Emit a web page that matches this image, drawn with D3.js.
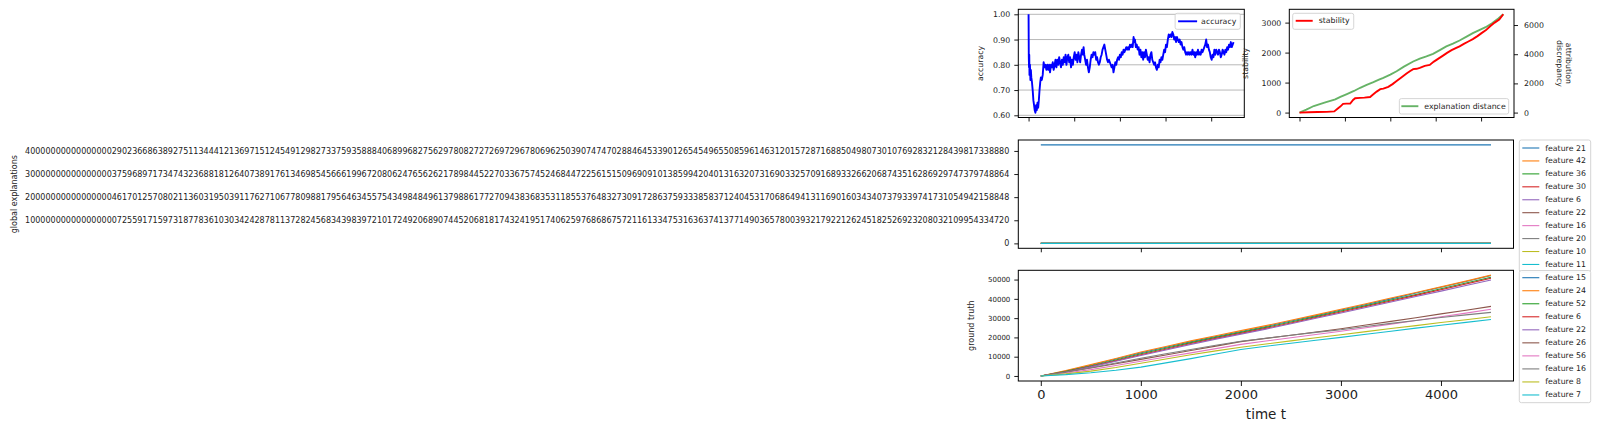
<!DOCTYPE html>
<html><head><meta charset="utf-8">
<script src="https://cdn.jsdelivr.net/npm/d3@7"></script>
<style>body{margin:0;background:#fff;} svg{display:block;font-family:"DejaVu Sans",sans-serif;}</style>
</head><body><svg id="c" width="1600" height="432"></svg>
<script>
// ---------------- DATA ----------------
const xTicks = [0, 1000, 2000, 3000, 4000];

const accT = [0,5,10,15,20,30,40,50,60,75,90,105,120,135,150,165,180,195,210,225,240,255,270,290,310,330,350,370,390,410,430,450,470,490,510,530,550,570,590,610,630,650,670,690,710,730,750,770,790,810,830,850,870,890,910,930,950,970,990,1010,1030,1050,1070,1090,1110,1130,1150,1170,1190,1205,1220,1240,1260,1280,1300,1320,1340,1360,1380,1400,1420,1440,1460,1480,1500,1520,1540,1560,1580,1600,1620,1640,1660,1680,1700,1720,1740,1760,1780,1800,1820,1840,1860,1880,1900,1920,1940,1960,1980,2000,2020,2040,2060,2080,2100,2120,2140,2160,2180,2200,2220,2240,2260,2280,2300,2315,2330,2350,2370,2390,2410,2430,2450,2470,2490,2510,2530,2550,2570,2590,2610,2630,2650,2670,2690,2710,2730,2750,2770,2790,2810,2830,2850,2870,2890,2910,2930,2950,2970,2990,3010,3030,3050,3070,3090,3110,3130,3150,3170,3190,3210,3230,3250,3270,3290,3310,3330,3350,3370,3390,3410,3430,3450,3470,3490,3510,3530,3550,3570,3590,3610,3630,3650,3670,3690,3710,3730,3750,3770,3790,3810,3830,3850,3870,3890,3910,3930,3950,3970,3990,4010,4030,4050,4070,4090,4110,4130,4150,4170,4190,4210,4230,4250,4270,4290,4310,4330,4350,4370,4390,4410,4430,4450,4470,4490];
const accV = [1.00,0.83,0.79,0.84,0.76,0.80,0.74,0.78,0.75,0.73,0.70,0.66,0.64,0.62,0.61,0.64,0.62,0.65,0.63,0.66,0.70,0.73,0.75,0.74,0.76,0.81,0.79,0.80,0.78,0.80,0.78,0.80,0.77,0.80,0.79,0.81,0.78,0.80,0.82,0.79,0.82,0.80,0.83,0.81,0.79,0.82,0.80,0.83,0.81,0.84,0.80,0.83,0.84,0.81,0.83,0.79,0.82,0.80,0.83,0.85,0.82,0.84,0.81,0.85,0.83,0.81,0.84,0.86,0.84,0.87,0.84,0.82,0.80,0.82,0.79,0.77,0.79,0.82,0.84,0.83,0.85,0.84,0.85,0.82,0.83,0.81,0.80,0.81,0.83,0.84,0.86,0.87,0.88,0.86,0.84,0.82,0.81,0.82,0.81,0.80,0.79,0.80,0.77,0.79,0.81,0.80,0.82,0.83,0.82,0.84,0.83,0.85,0.84,0.86,0.85,0.86,0.87,0.86,0.87,0.86,0.88,0.87,0.88,0.87,0.91,0.89,0.90,0.87,0.88,0.86,0.87,0.84,0.86,0.83,0.85,0.82,0.85,0.83,0.86,0.84,0.82,0.83,0.81,0.84,0.85,0.82,0.81,0.80,0.81,0.79,0.78,0.80,0.79,0.82,0.81,0.83,0.82,0.84,0.86,0.85,0.88,0.87,0.90,0.92,0.91,0.92,0.91,0.93,0.92,0.90,0.91,0.89,0.91,0.90,0.89,0.90,0.88,0.89,0.87,0.86,0.87,0.85,0.84,0.85,0.84,0.85,0.84,0.85,0.84,0.86,0.84,0.85,0.83,0.85,0.84,0.86,0.84,0.85,0.84,0.86,0.85,0.86,0.87,0.88,0.90,0.87,0.88,0.86,0.85,0.83,0.82,0.84,0.83,0.86,0.84,0.86,0.85,0.84,0.86,0.85,0.83,0.84,0.86,0.85,0.84,0.86,0.85,0.87,0.86,0.88,0.87,0.89,0.87,0.88,0.89];
const accTicks = [0.6, 0.7, 0.8, 0.9, 1.0];

const stabT = [0,200,400,600,766,830,898,960,1029,1117,1180,1226,1336,1430,1555,1620,1700,1780,1847,1956,2050,2139,2250,2358,2430,2504,2580,2650,2760,2869,2960,3060,3161,3250,3350,3430,3526,3620,3720,3818,3920,4010,4109,4200,4300,4400,4489];
const stabV = [0,10,20,25,40,120,200,290,300,300,420,480,490,500,520,600,700,780,800,860,950,1050,1180,1300,1380,1450,1460,1490,1560,1590,1700,1800,1900,1990,2080,2140,2210,2290,2370,2450,2550,2650,2750,2880,3000,3100,3280];
const stabTicks = [0, 1000, 2000, 3000];

const distT = [0,150,314,550,788,900,1044,1200,1336,1480,1628,1750,1847,2000,2139,2300,2504,2650,2796,2942,3100,3234,3380,3526,3680,3818,3960,4100,4248,4380,4489];
const distV = [0,200,450,680,900,1080,1270,1480,1700,1900,2085,2250,2380,2600,2830,3150,3500,3700,3850,4030,4300,4530,4720,4940,5200,5440,5650,5850,6130,6450,6740];
const distTicks = [0, 2000, 4000, 6000];

const globalT = [0, 4500];
const globalFeatures = ["feature 21","feature 42","feature 36","feature 30","feature 6","feature 22","feature 16","feature 20","feature 10","feature 11"];
const globalValues = [
  [4.26e192, 4.26e192],
  [0, 0],[0, 0],[0, 0],[0, 0],[0, 0],[0, 0],[0, 0],[0, 0],[0, 0]
];
const globalTicks = [0, 1e192, 2e192, 3e192, 4e192];
const globalTickLabels = [
  "0",
  "1000000000000000007255917159731877836103034242878113728245683439839721017249206890744520681817432419517406259768686757211613347531636374137714903657800393217922126245182526923208032109954334720",
  "2000000000000000046170125708021136031950391176271067780988179564634557543498484961379886177270943836835311855376483273091728637593338583712404531706864941311690160343407379339741731054942158848",
  "3000000000000000037596897173474323688181264073891761346985456661996720806247656262178984452270336757452468447225615150969091013859942040131632073169033257091689332662068743516286929747379748864",
  "4000000000000000029023668638927511344412136971512454912982733759358884068996827562978082727269729678069625039074747028846453390126545496550859614631201572871688504980730107692832128439817338880"
];

const truthT = [0,250,500,750,1000,1250,1500,1750,2000,2250,2500,2750,3000,3250,3500,3750,4000,4250,4500];
const truthFeatures = ["feature 15","feature 24","feature 52","feature 6","feature 22","feature 26","feature 56","feature 16","feature 8","feature 7"];
const truthValues = [
  [0,2600,5600,8800,12000,14900,17800,20500,23100,25700,28500,31300,34200,37100,40000,43000,46000,49000,52100],
  [0,2800,5900,9100,12400,15300,18200,20900,23500,26100,28900,31700,34600,37500,40400,43300,46200,49200,52300],
  [0,2400,5200,8300,11500,14400,17300,20000,22600,25200,28000,30800,33700,36500,39400,42300,45200,48200,51200],
  [0,2200,4900,7900,11000,13900,16800,19500,22100,24700,27500,30300,33200,36000,38900,41800,44700,47700,50700],
  [0,2100,4700,7600,10600,13500,16400,19100,21700,24300,27100,29900,32700,35500,38400,41200,44000,46900,49800],
  [0,2000,4100,6300,8600,10900,13200,15500,17800,19500,21100,22800,24500,26400,28300,30200,32200,34100,36100],
  [0,1500,3300,5400,7600,9800,12000,14200,16400,18100,19800,21500,23200,25000,26900,28800,30700,32600,34600],
  [0,2100,4300,6700,9200,11500,13700,15900,18000,19600,21100,22600,24000,25700,27300,28800,30300,31700,33000],
  [0,1100,2500,4400,6600,8800,11000,13000,14900,16600,18200,19800,21400,23000,24600,26100,27700,29200,30700],
  [0,700,1700,3000,4600,6800,9000,11400,13700,15400,17000,18500,20000,21600,23200,24800,26300,27800,29300]
];
const truthTicks = [0, 10000, 20000, 30000, 40000, 50000];

// ---------------- DRAW ----------------
const svg = d3.select("#c");
const FONT = "DejaVu Sans";
const TXT = "#222";
const tab10 = d3.schemeCategory10;
const TICKFS = 7.8;

function frame(L, T, R, B) {
  svg.append("rect").attr("x", L).attr("y", T).attr("width", R - L).attr("height", B - T)
    .attr("fill", "none").attr("stroke", "#000").attr("stroke-width", 1);
}
function styleAxis(g, fs) {
  g.select(".domain").remove();
  g.selectAll(".tick line").attr("stroke", "#000").attr("stroke-width", 0.9);
  g.selectAll(".tick text").attr("fill", TXT).style("font-size", fs + "px").style("font-family", FONT);
}
function ylabel(txt, x, y, fs, rot) {
  svg.append("text").attr("transform", `translate(${x},${y}) rotate(${rot || -90})`)
    .attr("text-anchor", "middle").attr("dominant-baseline", "central")
    .style("font-size", fs + "px").style("font-family", FONT).attr("fill", TXT).text(txt);
}
function legendBox(entries, opts) {
  const fs = opts.fs, step = opts.step, padTop = opts.padTop, padBot = opts.padBot;
  const g = svg.append("g");
  const tmp = g.append("text").style("font-size", fs + "px").style("font-family", FONT);
  let maxW = 0;
  entries.forEach(e => { tmp.text(e.label); maxW = Math.max(maxW, tmp.node().getComputedTextLength()); });
  tmp.remove();
  const w = opts.width || (opts.lineGap + opts.lineLen + opts.textGap + maxW + opts.padRight);
  const h = padTop + padBot + step * (entries.length - 1);
  const x0 = opts.anchor === "right" ? opts.x - w : opts.x;
  const y0 = opts.vAnchor === "bottom" ? opts.y - h : opts.y;
  g.append("rect").attr("x", x0).attr("y", y0).attr("width", w).attr("height", h)
    .attr("rx", 2).attr("fill", "#fff").attr("fill-opacity", 0.8).attr("stroke", "#d0d0d0").attr("stroke-width", 0.9);
  entries.forEach((e, i) => {
    const cy = y0 + padTop + i * step;
    g.append("line").attr("x1", x0 + opts.lineGap).attr("x2", x0 + opts.lineGap + opts.lineLen)
      .attr("y1", cy).attr("y2", cy).attr("stroke", e.color).attr("stroke-width", e.width)
      .attr("stroke-opacity", e.opacity == null ? 1 : e.opacity);
    g.append("text").attr("x", x0 + opts.lineGap + opts.lineLen + opts.textGap).attr("y", cy)
      .attr("dominant-baseline", "central").style("font-size", fs + "px").style("font-family", FONT)
      .attr("fill", TXT).text(e.label);
  });
}

// ---- Panel A: accuracy ----
{
  const L = 1018.3, R = 1244.3, T = 9.3, B = 117.5;
  const x = d3.scaleLinear().domain([-225, 4725]).range([L, R]);
  const y = d3.scaleLinear().domain([0.5913, 1.0198]).range([B, T]);
  svg.append("g").selectAll("line").data(accTicks).join("line")
    .attr("x1", L).attr("x2", R).attr("y1", d => y(d)).attr("y2", d => y(d))
    .attr("stroke", "#b0b0b0").attr("stroke-width", 0.9);
  const data = accT.map((t, i) => [t, accV[i]]);
  svg.append("path").datum(data).attr("fill", "none").attr("stroke", "#0000ff").attr("stroke-width", 1.9)
    .attr("stroke-linejoin", "round")
    .attr("d", d3.line().x(d => x(d[0])).y(d => y(d[1])));
  frame(L, T, R, B);
  styleAxis(svg.append("g").attr("transform", `translate(${L},0)`)
    .call(d3.axisLeft(y).tickValues(accTicks).tickFormat(d3.format(".2f")).tickSize(4).tickPadding(4)), TICKFS);
  styleAxis(svg.append("g").attr("transform", `translate(0,${B})`)
    .call(d3.axisBottom(x).tickValues(xTicks).tickFormat("").tickSize(4)), TICKFS);
  ylabel("accuracy", 980.7, (T + B) / 2, 7.8);
  legendBox([{label: "accuracy", color: "#0000ff", width: 1.9}],
    {fs: 7.8, step: 12.9, padTop: 8, padBot: 8, lineGap: 3, lineLen: 19, textGap: 4, padRight: 4,
     x: 1240.3, y: 13.3, anchor: "right"});
}

// ---- Panel B: stability / explanation distance ----
{
  const L = 1289.3, R = 1514, T = 9.3, B = 117.5;
  const x = d3.scaleLinear().domain([-225, 4725]).range([L, R]);
  const yS = d3.scaleLinear().domain([-164, 3444]).range([B, T]);
  const yD = d3.scaleLinear().domain([-337, 7077]).range([B, T]);
  svg.append("path").datum(distT.map((t, i) => [t, distV[i]])).attr("fill", "none")
    .attr("stroke", "#008000").attr("stroke-opacity", 0.6).attr("stroke-width", 1.9)
    .attr("d", d3.line().x(d => x(d[0])).y(d => yD(d[1])));
  svg.append("path").datum(stabT.map((t, i) => [t, stabV[i]])).attr("fill", "none")
    .attr("stroke", "#ff0000").attr("stroke-width", 1.9)
    .attr("d", d3.line().x(d => x(d[0])).y(d => yS(d[1])));
  frame(L, T, R, B);
  styleAxis(svg.append("g").attr("transform", `translate(${L},0)`)
    .call(d3.axisLeft(yS).tickValues(stabTicks).tickFormat(d3.format("d")).tickSize(4).tickPadding(4)), TICKFS);
  styleAxis(svg.append("g").attr("transform", `translate(${R},0)`)
    .call(d3.axisRight(yD).tickValues(distTicks).tickFormat(d3.format("d")).tickSize(4).tickPadding(6)), TICKFS);
  styleAxis(svg.append("g").attr("transform", `translate(0,${B})`)
    .call(d3.axisBottom(x).tickValues(xTicks).tickFormat("").tickSize(4)), TICKFS);
  ylabel("stability", 1245, (T + B) / 2, 7.8);
  const rl = svg.append("text").attr("transform", `translate(1563.5,${(T + B) / 2}) rotate(90)`)
    .attr("text-anchor", "middle").style("font-size", "7.8px").style("font-family", FONT).attr("fill", TXT);
  rl.append("tspan").attr("x", 0).attr("dy", "-0.35em").text("attribution");
  rl.append("tspan").attr("x", 0).attr("dy", "1.2em").text("discrepancy");
  legendBox([{label: "stability", color: "#ff0000", width: 1.9}],
    {fs: 7.8, step: 12.9, padTop: 7.5, padBot: 8.5, lineGap: 3, lineLen: 17, textGap: 6, padRight: 4,
     x: 1292.7, y: 13.3, anchor: "left"});
  legendBox([{label: "explanation distance", color: "#008000", width: 1.9, opacity: 0.6}],
    {fs: 7.8, step: 12.9, padTop: 7.6, padBot: 7.8, lineGap: 2, lineLen: 17, textGap: 6, padRight: 3,
     x: 1508.7, y: 114, anchor: "right", vAnchor: "bottom"});
}

// ---- Panel C: global explanations ----
{
  const L = 1018.3, R = 1513.5, T = 140, B = 248.3;
  const x = d3.scaleLinear().domain([-225, 4725]).range([L, R]);
  const y = d3.scaleLinear().domain([-0.213e192, 4.473e192]).range([B, T]);
  const line = d3.line().x(d => x(d[0])).y(d => y(d[1]));
  globalValues.forEach((vals, k) => {
    svg.append("path").datum(globalT.map((t, i) => [t, vals[i]])).attr("fill", "none")
      .attr("stroke", tab10[k % 10]).attr("stroke-width", 1.1).attr("d", line);
  });
  frame(L, T, R, B);
  styleAxis(svg.append("g").attr("transform", `translate(${L},0)`)
    .call(d3.axisLeft(y).tickValues(globalTicks).tickFormat((d, i) => globalTickLabels[i]).tickSize(4).tickPadding(5)), 8.03);
  styleAxis(svg.append("g").attr("transform", `translate(0,${B})`)
    .call(d3.axisBottom(x).tickValues(xTicks).tickFormat("").tickSize(4)), TICKFS);
  ylabel("global explanations", 14.3, (T + B) / 2, 8);
  legendBox(globalFeatures.map((f, k) => ({label: f, color: tab10[k % 10], width: 1.1})),
    {fs: 7.8, step: 12.94, padTop: 8, padBot: 7.5, lineGap: 3, lineLen: 17, textGap: 6, padRight: 3,
     x: 1519.3, y: 140, anchor: "left", width: 71.4});
}

// ---- Panel D: ground truth ----
{
  const L = 1018.3, R = 1513.5, T = 270.3, B = 381;
  const x = d3.scaleLinear().domain([-225, 4725]).range([L, R]);
  const y = d3.scaleLinear().domain([-2610, 54810]).range([B, T]);
  const line = d3.line().x(d => x(d[0])).y(d => y(d[1]));
  truthValues.forEach((vals, k) => {
    svg.append("path").datum(truthT.map((t, i) => [t, vals[i]])).attr("fill", "none")
      .attr("stroke", tab10[k % 10]).attr("stroke-width", 1.1).attr("d", line);
  });
  frame(L, T, R, B);
  styleAxis(svg.append("g").attr("transform", `translate(${L},0)`)
    .call(d3.axisLeft(y).tickValues(truthTicks).tickFormat(d3.format("d")).tickSize(4).tickPadding(4)), 7);
  styleAxis(svg.append("g").attr("transform", `translate(0,${B})`)
    .call(d3.axisBottom(x).tickValues(xTicks).tickFormat(d3.format("d")).tickSize(5).tickPadding(4)), 13);
  ylabel("ground truth", 971.4, (T + B) / 2, 8);
  svg.append("text").attr("x", (L + R) / 2).attr("y", 419).attr("text-anchor", "middle")
    .style("font-size", "13.5px").style("font-family", FONT).attr("fill", TXT).text("time t");
  legendBox(truthFeatures.map((f, k) => ({label: f, color: tab10[k % 10], width: 1.1})),
    {fs: 7.8, step: 13.03, padTop: 7.2, padBot: 7.7, lineGap: 3, lineLen: 17, textGap: 6, padRight: 3,
     x: 1519.3, y: 270.5, anchor: "left", width: 71.4});
}
</script></body></html>
